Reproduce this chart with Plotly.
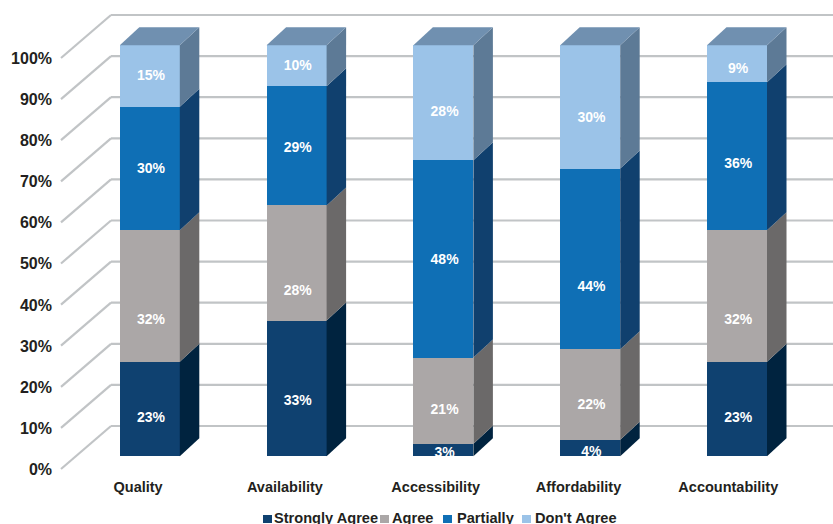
import plotly.graph_objects as go

# Survey responses, percent per attribute
categories = ["Quality", "Availability", "Accessibility", "Affordability", "Accountability"]
strongly_agree = [23, 33, 3, 4, 23]
agree = [32, 28, 21, 22, 32]
partially = [30, 29, 48, 44, 36]
dont_agree = [15, 10, 28, 30, 9]
y_ticks = list(range(0, 101, 10))

series = [
    ("Strongly Agree", strongly_agree, "#0f4170", "#00233f"),
    ("Agree", agree, "#aba7a7", "#6b6969"),
    ("Partially", partially, "#0f6fb5", "#10406e"),
    ("Don't Agree", dont_agree, "#9bc3e8", "#5d7a96"),
]

# Value labels sit a little below the middle of some segments (pixels)
label_drop = [
    [9, 12, 3, 4, 9],
    [24, 28, 9, 10, 24],
    [0, 2, 1, 28, 8],
    [0, 0, 9, 11, 5],
]
# Horizontal nudge of the category labels (pixels)
cat_nudge = [-11.7, -11.7, -7.7, -11.7, -8.7]
LABEL_NUDGE_X = 1.2

W, H = 833, 524
PX_PER_PCT = 4.11
PX_PER_CAT = 146.8
X0_PX, Y0_PX = 149.8, 456.2      # first bar centre, front-plane zero
BAR_W = 60 / PX_PER_CAT
BAR_DX, BAR_DY = 19.5 / PX_PER_CAT, 18 / PX_PER_PCT   # extrusion of each bar
TEXT = "#231f20"
GRID = "#c1c4c6"
FONT = "Liberation Sans"


def y_range(zero_px):
    return [(zero_px - H) / PX_PER_PCT, zero_px / PX_PER_PCT]


def x_of_px(px):
    return (px - X0_PX) / PX_PER_CAT


def y_of_py(py):
    return (Y0_PX - py) / PX_PER_PCT


fig = go.Figure()

# Wall gridlines and the slanted floor-to-wall connectors
shapes = []
line = dict(color=GRID, width=2.2)
for t in y_ticks:
    wall_y = y_of_py(426 - t * PX_PER_PCT)
    edge_y = y_of_py(469 - t * PX_PER_PCT)
    shapes.append(dict(type="line", layer="below", xref="x", yref="y", line=line,
                       x0=x_of_px(61), y0=edge_y, x1=x_of_px(111), y1=wall_y))
    shapes.append(dict(type="line", layer="below", xref="x", yref="y", line=line,
                       x0=x_of_px(111), y0=wall_y, x1=x_of_px(W), y1=wall_y))

# Front faces
for name, vals, front, side in series:
    fig.add_trace(go.Bar(x=list(range(len(categories))), y=vals, name=name, width=BAR_W,
                         marker=dict(color=front, line=dict(width=0)), showlegend=False,
                         hoverinfo="skip"))

# Side faces and top cap, extruded from the stacked values
for i in range(len(categories)):
    xr = i + BAR_W / 2
    xl = i - BAR_W / 2
    base = 0
    for name, vals, front, side in series:
        top = base + vals[i]
        fig.add_trace(go.Scatter(
            x=[xr, xr + BAR_DX, xr + BAR_DX, xr, xr],
            y=[base, base + BAR_DY, top + BAR_DY, top, base],
            mode="lines", fill="toself", fillcolor=side, line=dict(width=0),
            showlegend=False, hoverinfo="skip"))
        base = top
    fig.add_trace(go.Scatter(
        x=[xl, xr, xr + BAR_DX, xl + BAR_DX, xl],
        y=[base, base, base + BAR_DY, base + BAR_DY, base],
        mode="lines", fill="toself", fillcolor="#7090b0", line=dict(width=0),
        showlegend=False, hoverinfo="skip"))

# Value labels, on a subplot that ends at the floor so they clip at the bar base
base = [0] * len(categories)
for (name, vals, front, side), drops in zip(series, label_drop):
    ys = [b + v / 2 - d / PX_PER_PCT for b, v, d in zip(base, vals, drops)]
    fig.add_trace(go.Scatter(
        x=[i + LABEL_NUDGE_X / PX_PER_CAT for i in range(len(categories))],
        y=ys, yaxis="y3", mode="text",
        text=[f"{v}%" for v in vals], cliponaxis=True,
        textfont=dict(family=FONT, size=14, color="white", weight="bold"),
        showlegend=False, hoverinfo="skip"))
    base = [b + v for b, v in zip(base, vals)]

# Percent axis is drawn by its own overlay, offset from the front plane
fig.add_trace(go.Scatter(x=[0], y=[0], yaxis="y2", mode="markers",
                         marker=dict(opacity=0), showlegend=False, hoverinfo="skip"))

# Legend row along the bottom edge
legend_items = [(263, 274, 0), (380, 392, 1), (443, 457, 2), (522, 535, 3)]
annotations = []
for sq_x, txt_x, idx in legend_items:
    shapes.append(dict(type="rect", xref="paper", yref="paper", line=dict(width=0),
                       fillcolor=series[idx][2],
                       x0=sq_x / W, x1=(sq_x + 9) / W,
                       y0=1 - 523 / H, y1=1 - 515 / H))
    annotations.append(dict(xref="paper", yref="paper", x=txt_x / W, y=1 - 518 / H,
                            xanchor="left", yanchor="middle", showarrow=False,
                            text=series[idx][0], xshift=-2,
                            font=dict(family=FONT, size=14.6, color=TEXT, weight="bold")))

fig.update_layout(
    width=W, height=H, autosize=False,
    margin=dict(l=0, r=0, t=0, b=0),
    paper_bgcolor="white", plot_bgcolor="rgba(0,0,0,0)",
    barmode="stack", bargap=0,
    shapes=shapes, annotations=annotations, showlegend=False,
    xaxis=dict(
        domain=[0, 1], range=[x_of_px(0), x_of_px(W)],
        anchor="free", position=1 - 476 / H,
        tickmode="array",
        tickvals=[i + n / PX_PER_CAT for i, n in enumerate(cat_nudge)],
        ticktext=categories, ticks="", showgrid=False, zeroline=False, showline=False,
        tickfont=dict(family=FONT, size=14.5, color=TEXT, weight="bold"),
    ),
    yaxis=dict(domain=[0, 1], range=y_range(Y0_PX), visible=False, fixedrange=True),
    yaxis2=dict(
        overlaying="y", domain=[0, 1], range=y_range(469.3), anchor="free", position=52 / W,
        tickmode="array", tickvals=y_ticks, ticktext=[f"{t}%" for t in y_ticks],
        ticks="", showgrid=False, zeroline=False, showline=False,
        tickfont=dict(family=FONT, size=16, color=TEXT, weight="bold"),
    ),
    yaxis3=dict(domain=[1 - 457 / H, 1], range=[0, 457 / PX_PER_PCT], visible=False),
)

fig.write_html("out.html")
